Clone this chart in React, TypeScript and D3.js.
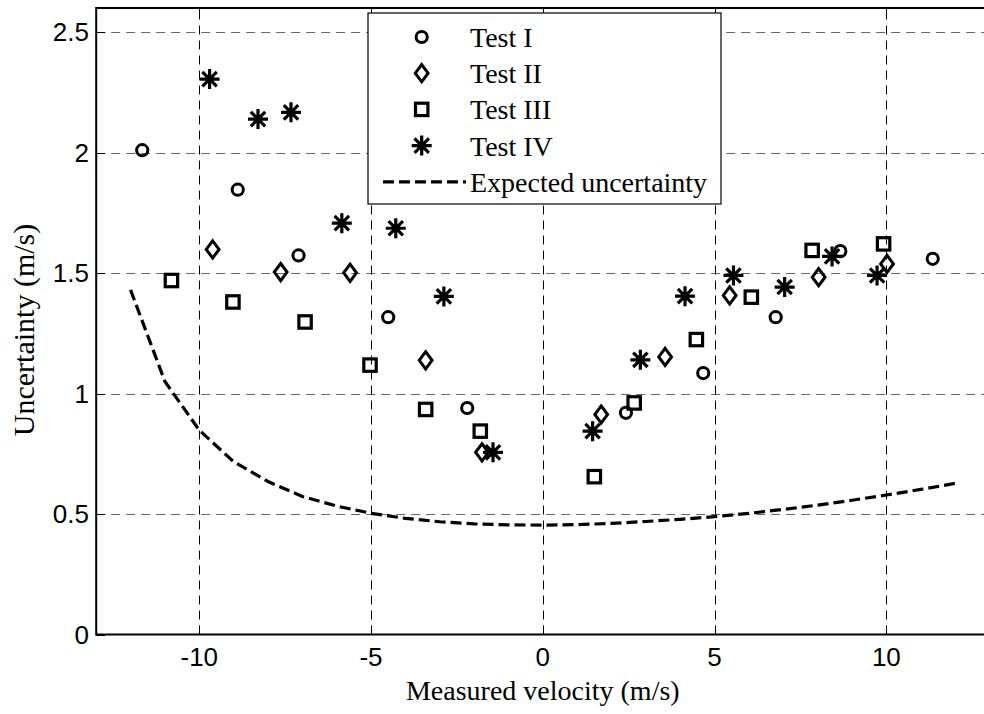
import React from "react";
import * as d3 from "d3";

const xTicks = [-10, -5, 0, 5, 10];
const yTicks = [0, 0.5, 1, 1.5, 2, 2.5];
const yTickLabels = ["0", "0.5", "1", "1.5", "2", "2.5"];

const test1X = [-11.66, -8.88, -7.11, -4.5, -2.2, 2.42, 4.67, 6.78, 8.66, 11.35];
const test1Y = [2.01, 1.846, 1.573, 1.317, 0.94, 0.92, 1.085, 1.317, 1.591, 1.559];

const test2X = [-9.61, -7.63, -5.61, -3.41, -1.77, 1.7, 3.56, 5.44, 8.03, 10.02];
const test2Y = [1.598, 1.504, 1.501, 1.138, 0.756, 0.913, 1.152, 1.407, 1.483, 1.538];

const test3X = [-10.81, -9.02, -6.92, -5.03, -3.41, -1.82, 1.5, 2.66, 4.47, 6.07, 7.84, 9.92];
const test3Y = [1.469, 1.38, 1.297, 1.118, 0.934, 0.844, 0.655, 0.961, 1.224, 1.4, 1.594, 1.621];

const test4X = [-9.7, -8.29, -7.33, -5.85, -4.28, -2.88, -1.45, 1.45, 2.84, 4.14, 5.55, 7.04, 8.42, 9.73];
const test4Y = [2.305, 2.139, 2.167, 1.707, 1.686, 1.403, 0.756, 0.844, 1.14, 1.404, 1.49, 1.442, 1.569, 1.49];

const expectedX = [-12, -11, -10, -9, -8, -7, -6, -5, -4, -3, -2, -1, 0, 1, 2, 3, 4, 5, 6, 7, 8, 9, 10, 11, 12];
const expectedY = [1.43, 1.05, 0.848, 0.717, 0.635, 0.573, 0.533, 0.503, 0.482, 0.468, 0.459, 0.455, 0.454, 0.456, 0.461, 0.469, 0.478, 0.489, 0.503, 0.519, 0.537, 0.557, 0.579, 0.602, 0.627];

const legendLabels = ["Test I", "Test II", "Test III", "Test IV", "Expected uncertainty"];

const W = 984;
const H = 714;
const left = 96.2;
const right = 989.4;
const top = 8;
const bottom = 634.5;

const SERIF = "'Liberation Serif', 'Times New Roman', serif";
const SANS = "'Liberation Sans', Arial, sans-serif";

type Kind = "circle" | "diamond" | "square" | "star";

function Marker({ kind, x, y }: { kind: Kind; x: number; y: number }) {
  if (kind === "circle") {
    return <circle cx={x} cy={y} r={5.6} fill="none" stroke="#000" strokeWidth={3} />;
  }
  if (kind === "diamond") {
    const w = 6.4, h = 8.6;
    return (
      <path
        d={`M${x},${y - h}L${x + w},${y}L${x},${y + h}L${x - w},${y}Z`}
        fill="none"
        stroke="#000"
        strokeWidth={3}
        strokeLinejoin="miter"
      />
    );
  }
  if (kind === "square") {
    const s = 6.2;
    return <rect x={x - s} y={y - s} width={2 * s} height={2 * s} fill="none" stroke="#000" strokeWidth={3.2} />;
  }
  const r = 10;
  const d = r * 0.72;
  return (
    <path
      d={`M${x - r},${y}L${x + r},${y}M${x},${y - r}L${x},${y + r}M${x - d},${y - d}L${x + d},${y + d}M${x - d},${y + d}L${x + d},${y - d}`}
      stroke="#000"
      strokeWidth={3.2}
      fill="none"
    />
  );
}

export default function App() {
  const x = d3.scaleLinear().domain([-13, 13]).range([left, right]);
  const y = d3.scaleLinear().domain([0, 2.6]).range([bottom, top]);

  const series: { kind: Kind; xs: number[]; ys: number[] }[] = [
    { kind: "circle", xs: test1X, ys: test1Y },
    { kind: "diamond", xs: test2X, ys: test2Y },
    { kind: "square", xs: test3X, ys: test3Y },
    { kind: "star", xs: test4X, ys: test4Y },
  ];

  const line = d3
    .line<number>()
    .x((_, i) => x(expectedX[i]))
    .y((v) => y(v));

  const legX = 368, legY = 13, legW = 353, legH = 191;
  const rowY = (i: number) => 37 + i * 36.2;

  return (
    <div style={{ position: "absolute", left: 0, top: 0 }}>
      <svg width={W} height={H} style={{ display: "block", background: "#fff" }}>
        <defs>
          <clipPath id="plotclip">
            <rect x={left} y={top} width={right - left} height={bottom - top} />
          </clipPath>
        </defs>
        <rect x={0} y={0} width={W} height={H} fill="#fff" />
        {/* grid */}
        {yTicks.slice(1).map((t) => (
          <line key={"gy" + t} x1={left} x2={right} y1={Math.round(y(t)) + 0.5} y2={Math.round(y(t)) + 0.5}
            stroke="#666" strokeWidth={1} strokeDasharray="9,6" />
        ))}
        {xTicks.map((t) => (
          <line key={"gx" + t} x1={Math.round(x(t)) + 0.5} x2={Math.round(x(t)) + 0.5} y1={bottom} y2={top}
            stroke="#000" strokeWidth={1} strokeDasharray="9,6" />
        ))}
        {/* ticks */}
        {xTicks.map((t) => (
          <g key={"tx" + t}>
            <line x1={Math.round(x(t)) + 0.5} x2={Math.round(x(t)) + 0.5} y1={bottom} y2={bottom - 9} stroke="#000" />
            <line x1={Math.round(x(t)) + 0.5} x2={Math.round(x(t)) + 0.5} y1={top} y2={top + 9} stroke="#000" />
          </g>
        ))}
        {yTicks.map((t) => (
          <line key={"ty" + t} x1={left} x2={left + 9} y1={Math.round(y(t)) + 0.5} y2={Math.round(y(t)) + 0.5} stroke="#000" />
        ))}
        {/* expected line */}
        <path d={line(expectedY) || ""} fill="none" stroke="#000" strokeWidth={3.2} strokeDasharray="11,5" clipPath="url(#plotclip)" />
        {/* markers */}
        {series.map((s) =>
          s.xs.map((v, i) => <Marker key={s.kind + i} kind={s.kind} x={x(v)} y={y(s.ys[i])} />)
        )}
        {/* axes box */}
        <rect x={left} y={top} width={right - left} height={bottom - top} fill="none" stroke="#000" strokeWidth={2} />
        {/* tick labels */}
        {xTicks.map((t) => (
          <text key={"lx" + t} x={x(t)} y={666} textAnchor="middle" fontFamily={SANS} fontSize={26} fill="#000">
            {t}
          </text>
        ))}
        {yTicks.map((t, i) => (
          <text key={"ly" + t} x={89} y={y(t) + 9} textAnchor="end" fontFamily={SANS} fontSize={26} fill="#000">
            {yTickLabels[i]}
          </text>
        ))}
        {/* axis labels */}
        <text x={x(0)} y={700} textAnchor="middle" fontFamily={SERIF} fontSize={28} fill="#000">
          Measured velocity (m/s)
        </text>
        <text transform={`translate(34, 330) rotate(-90)`} textAnchor="middle" fontFamily={SERIF} fontSize={30} fill="#000">
          Uncertainty (m/s)
        </text>
        {/* legend */}
        <rect x={legX} y={legY} width={legW} height={legH} fill="#fff" stroke="#000" strokeWidth={1.2} />
        {series.map((s, i) => (
          <Marker key={"lg" + i} kind={s.kind} x={421.7} y={rowY(i)} />
        ))}
        <line x1={383} x2={466} y1={rowY(4)} y2={rowY(4)} stroke="#000" strokeWidth={3.2} strokeDasharray="11,5" />
        {legendLabels.map((l, i) => (
          <text key={"lt" + i} x={470} y={rowY(i) + 10} fontFamily={SERIF} fontSize={28} fill="#000">
            {l}
          </text>
        ))}
      </svg>
    </div>
  );
}
